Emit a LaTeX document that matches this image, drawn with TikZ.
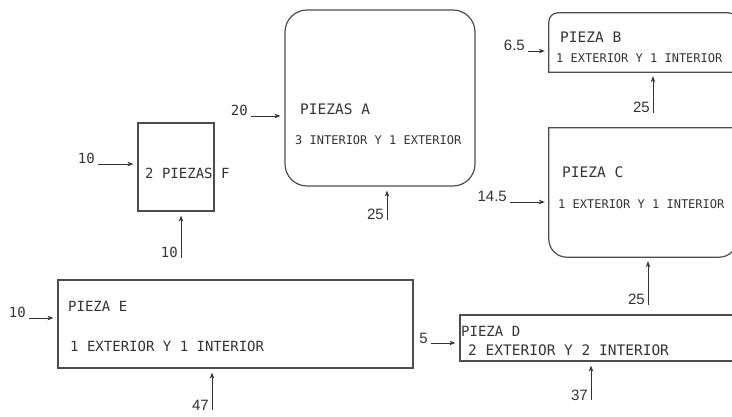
\documentclass[tikz,border=0pt]{standalone}
\usepackage{fontspec}
\setmainfont{Liberation Sans}
\setmonofont{DejaVu Sans Mono}
\definecolor{cadline}{HTML}{4D4D4D}
\definecolor{cadink}{HTML}{333333}
\usetikzlibrary{arrows.meta}

\begin{document}
\begin{tikzpicture}[
  x=1pt, y=-1pt,
  pieza/.style={draw=cadline, line width=1.2pt, inner sep=0pt},
  contorno/.style={draw=cadline, line width=1.2pt},
  rot/.style={anchor=west, inner sep=0pt, text=cadink, font=\ttfamily\fontsize{14}{14}\selectfont},
  rotfino/.style={rot, font=\ttfamily\fontsize{12}{12}\selectfont},
  cant/.style={anchor=base east, inner sep=0pt, text=cadink, font=\fontsize{15}{15}\selectfont},
  cantcad/.style={cant, font=\ttfamily\fontsize{14}{14}\selectfont},
  arr/.style={-{Stealth[length=6pt,width=4.5pt]}, line width=0.9pt, draw=cadink, shorten >=4pt},
]
  \clip (0,0) rectangle (732,417);

  % cajas
  \node[pieza, minimum width=76pt, minimum height=88pt] (F) at (176,167) {};
  \node[pieza, rounded corners=22pt, minimum width=190pt, minimum height=176pt] (A) at (380,98) {};
  \node[inner sep=0pt, minimum width=188pt, minimum height=59pt] (B) at (643,42.5) {};
  \node[inner sep=0pt, minimum width=188pt, minimum height=129pt] (C) at (643,192.5) {};
  \node[pieza, minimum width=285pt, minimum height=46pt] (D) at (602.5,338) {};
  \node[pieza, minimum width=355pt, minimum height=88pt] (E) at (235.5,324) {};
  \draw[contorno] (B.south east) -- (B.south west) {[rounded corners=9pt] -- (B.north west) -- (B.north east)} -- (B.south east);
  \draw[contorno] (C.north east) -- (C.north west) {[rounded corners=18pt] -- (C.south west) -- (C.south east)} -- (C.north east);

  % rotulos
  \node[rot] (tF) at (145,173) {2 PIEZAS F};
  \node[rot, font=\ttfamily\fontsize{14.5}{14.5}\selectfont] (tA1) at (300,109) {PIEZAS A};
  \node[rotfino] (tA2) at (295,140) {3 INTERIOR Y 1 EXTERIOR};
  \node[rot, font=\ttfamily\fontsize{14.5}{14.5}\selectfont] (tB1) at (560,37.5) {PIEZA B};
  \node[rotfino] (tB2) at (556,58) {1 EXTERIOR Y 1 INTERIOR};
  \node[rot, font=\ttfamily\fontsize{14.5}{14.5}\selectfont] (tC1) at (562,172) {PIEZA C};
  \node[rotfino] (tC2) at (558,204) {1 EXTERIOR Y 1 INTERIOR};
  \node[rot] (tE1) at (68,306) {PIEZA E};
  \node[rot] (tE2) at (70,346) {1 EXTERIOR Y 1 INTERIOR};
  \node[rot] (tD1) at (461,331) {PIEZA D};
  \node[rot, font=\ttfamily\fontsize{14.5}{14.5}\selectfont] (tD2) at (468,350) {2 EXTERIOR Y 2 INTERIOR};

  % cantidades
  \node[cantcad] (qFi) at (95,164) {10};
  \node[cantcad] (qFu) at (178,258) {10};
  \node[cantcad] (qAi) at (248,116) {20};
  \node[cant] (qAu) at (384,220) {25};
  \node[cant] (qBi) at (525,51) {6.5};
  \node[cant] (qBu) at (650,113) {25};
  \node[cant] (qCi) at (507,202) {14.5};
  \node[cant] (qCu) at (645,305) {25};
  \node[cantcad] (qEi) at (26,318) {10};
  \node[cant] (qEu) at (209,410) {47};
  \node[cant] (qDi) at (428,343) {5};
  \node[cant] (qDu) at (588,400) {37};

  % flechas de entrada
  \draw[arr] ([xshift=3pt]qFi.base east) -- (qFi.base east -| F.west);
  \draw[arr] ([xshift=3pt]qAi.base east) -- (qAi.base east -| A.west);
  \draw[arr] ([xshift=3pt]qBi.base east) -- (qBi.base east -| B.west);
  \draw[arr] ([xshift=3pt]qCi.base east) -- (qCi.base east -| C.west);
  \draw[arr] ([xshift=3pt]qEi.base east) -- (qEi.base east -| E.west);
  \draw[arr] ([xshift=3pt]qDi.base east) -- (qDi.base east -| D.west);
  \draw[arr] ([xshift=3pt]qFu.base east) -- ([xshift=3pt]qFu.base east |- F.south);
  \draw[arr] ([xshift=3pt]qAu.base east) -- ([xshift=3pt]qAu.base east |- A.south);
  \draw[arr] ([xshift=3pt]qBu.base east) -- ([xshift=3pt]qBu.base east |- B.south);
  \draw[arr] ([xshift=3pt]qCu.base east) -- ([xshift=3pt]qCu.base east |- C.south);
  \draw[arr] ([xshift=3pt]qEu.base east) -- ([xshift=3pt]qEu.base east |- E.south);
  \draw[arr] ([xshift=3pt]qDu.base east) -- ([xshift=3pt]qDu.base east |- D.south);
\end{tikzpicture}
\end{document}
